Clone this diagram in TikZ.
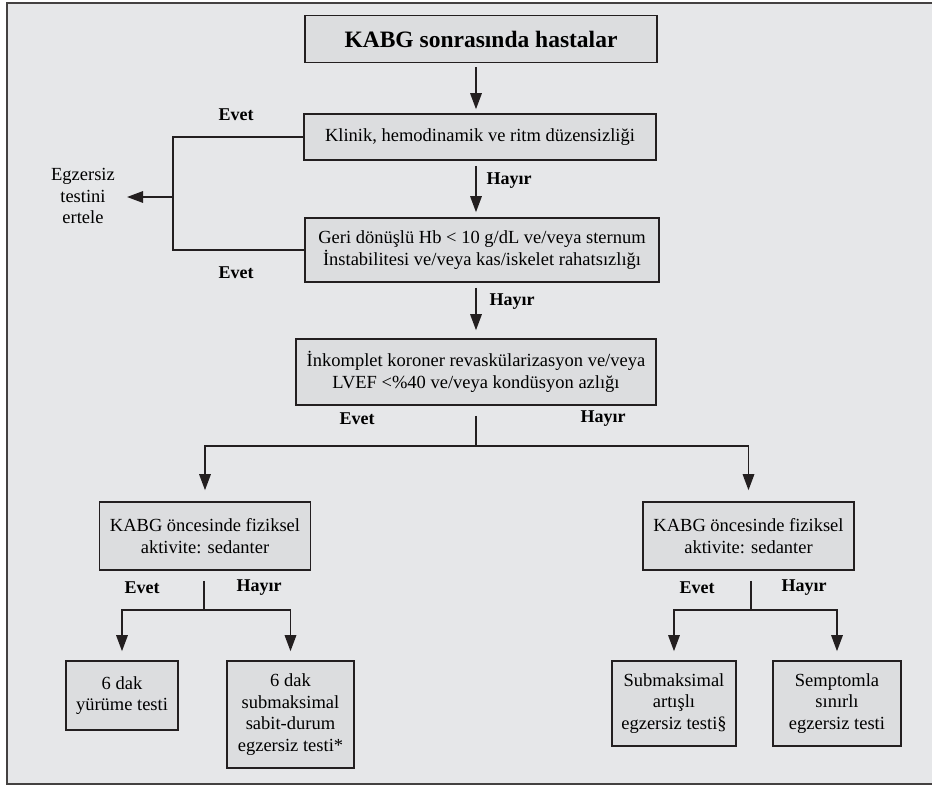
\documentclass[tikz,border=0pt]{standalone}
\usepackage{fontspec}
\setmainfont{Liberation Serif}
\usetikzlibrary{arrows.meta}

\definecolor{bggray}{HTML}{E6E7E9}
\definecolor{boxgray}{HTML}{DCDDDF}
\definecolor{ink}{HTML}{231F20}

\tikzset{
  box/.style={draw=ink, line width=1.6pt, fill=boxgray, inner sep=0pt, align=center,
    font=\fontsize{18.5}{21.5}\selectfont},
  lbl/.style={inner sep=0pt, font=\fontsize{18}{21}\selectfont\bfseries},
  txt/.style={inner sep=0pt, align=center, font=\fontsize{18.5}{21.5}\selectfont},
  line/.style={draw=ink, line width=1.5pt},
  arr/.style={line, -{Triangle[length=16pt,width=11.5pt]}},
}

\begin{document}
\begin{tikzpicture}[x=1pt,y=-1pt]

% ===== Zemin =====
\useasboundingbox (0,0) rectangle (932,787);
\fill[white] (0,0) rectangle (932,787);
\draw[fill=bggray, draw=ink!85, line width=1.5pt] (7,3) rectangle (936,784);

% ===== Kutular =====
\node[box, minimum width=352pt, minimum height=47pt,
  font=\fontsize{23.5}{26}\selectfont\bfseries] (hasta) at (481,39) {KABG sonrasında hastalar};

\node[box, minimum width=352pt, minimum height=46pt] (klinik) at (480,137)
  {Klinik, hemodinamik ve ritm düzensizliği};

\node[box, minimum width=354pt, minimum height=64pt] (geri) at (482,250)
  {Geri dönüşlü Hb < 10 g/dL ve/veya sternum\\İnstabilitesi ve/veya kas/iskelet rahatsızlığı};

\node[box, minimum width=360pt, minimum height=66pt] (inkomplet) at (476,372)
  {İnkomplet koroner revaskülarizasyon ve/veya\\LVEF <\%40 ve/veya kondüsyon azlığı};

\node[box, minimum width=211pt, minimum height=68pt] (sedL) at (205,536)
  {KABG öncesinde fiziksel\\aktivite: sedanter};
\node[box, minimum width=211pt, minimum height=68pt] (sedR) at (748.5,536)
  {KABG öncesinde fiziksel\\aktivite: sedanter};

\node[box, minimum width=112pt, minimum height=69pt] (yurume) at (122,695.5)
  {6 dak\\yürüme testi};
\node[box, minimum width=127pt, minimum height=107pt] (sabit) at (290.5,714.5)
  {6 dak\\submaksimal\\sabit-durum\\egzersiz testi*};
\node[box, minimum width=124pt, minimum height=85pt] (artisli) at (674,703.5)
  {Submaksimal\\artışlı\\egzersiz testi§};
\node[box, minimum width=128pt, minimum height=85pt] (semptom) at (837,703.5)
  {Semptomla\\sınırlı\\egzersiz testi};

\node[txt] (ertele) at (83,196) {Egzersiz\\testini\\ertele};

% ===== Etiketler =====
\node[lbl] (evet1) at (236,115) {Evet};
\node[lbl] (evet2) at (236,273) {Evet};
\node[lbl] (hayir1) at (509,181) {Hayır};
\node[lbl] (hayir2) at (512,302) {Hayır};
\node[lbl] (evet3) at (357,419) {Evet};
\node[lbl] (hayir3) at (603,419) {Hayır};
\node[lbl] (evet4) at (142,588) {Evet};
\node[lbl] (hayir4) at (259,588) {Hayır};
\node[lbl] (evet5) at (697,588) {Evet};
\node[lbl] (hayir5) at (804,588) {Hayır};

% ===== Oklar =====
\coordinate (brk) at (173,197);
\coordinate (split1) at (476,446);
\coordinate (splitL) at (204,610);
\coordinate (splitR) at (751,610);

\draw[arr, shorten <=4pt, shorten >=4pt] (hasta.south -| split1) -- (klinik.north -| split1);
\draw[arr, shorten <=5pt, shorten >=5pt] (klinik.south -| split1) -- (geri.north -| split1);
\draw[arr, shorten <=5pt, shorten >=8pt] (geri.south -| split1) -- (inkomplet.north -| split1);

\draw[line] (klinik.west) -| (brk) |- (geri.west);
\draw[arr, shorten >=12pt] (brk) -- (brk -| ertele.east);

\draw[line, shorten <=10pt] (inkomplet.south -| split1) -- (split1);
\draw[arr, shorten >=11pt] (split1) -| (sedL.north);
\draw[arr, shorten >=11pt] (split1) -| (sedR.north);

\draw[line, shorten <=10pt] (sedL.south -| splitL) -- (splitL);
\draw[arr, shorten >=9pt] (splitL) -| (yurume.north);
\draw[arr, shorten >=9pt] (splitL) -| (sabit.north);

\draw[line, shorten <=10pt] (sedR.south -| splitR) -- (splitR);
\draw[arr, shorten >=9pt] (splitR) -| (artisli.north);
\draw[arr, shorten >=9pt] (splitR) -| (semptom.north);

\end{tikzpicture}
\end{document}
